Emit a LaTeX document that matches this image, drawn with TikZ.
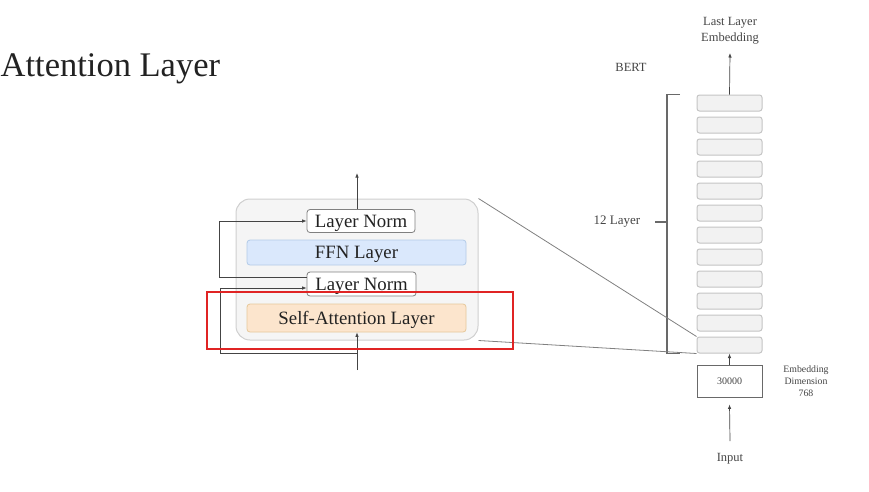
\documentclass[tikz,border=0pt]{standalone}
\usepackage{fontspec}
\setmainfont{Liberation Serif}
\usetikzlibrary{arrows.meta}
\definecolor{cellfill}{HTML}{F5F5F5}
\definecolor{cellline}{HTML}{CFCFCF}
\definecolor{ffnfill}{HTML}{DAE8FC}
\definecolor{ffnline}{HTML}{B3CBE8}
\definecolor{attnfill}{HTML}{FCE5CD}
\definecolor{attnline}{HTML}{E6C89A}
\definecolor{layerfill}{HTML}{F2F2F2}
\definecolor{layerline}{HTML}{C4C4C4}
\definecolor{focusred}{HTML}{E02424}
\definecolor{ink}{HTML}{222222}
\definecolor{grayink}{HTML}{444444}
\begin{document}
\begin{tikzpicture}
  [x=1pt,y=-1pt,every node/.style={inner sep=0pt,text=ink},
   block/.style={rounded corners=3pt,line width=0.8pt,text depth=0pt,font=\fontsize{18.8}{19}\selectfont},
   layer/.style={draw=layerline,fill=layerfill,rounded corners=2.5pt,line width=1pt,
     minimum width=65pt,minimum height=16pt},
   arr/.style={draw=grayink,line width=0.7pt,-{Latex[length=4.5pt,width=3.5pt]}},
   bracket/.style={draw=grayink!80,line width=1.4pt},
   side/.style={text=grayink,align=center,font=\fontsize{12.5}{16}\selectfont}]
  \useasboundingbox (0,0) rectangle (869,491);
  % title
  \node[anchor=base west,font=\fontsize{34.5}{34.5}\selectfont] (title) at (0.5,76) {Attention Layer};
  % encoder layer
  \node[draw=cellline,fill=cellfill,rounded corners=14pt,line width=1pt,
    minimum width=242pt,minimum height=141pt] (cell) at (357,269.5) {};
  \node[block,draw=gray,fill=white,minimum width=108pt,minimum height=23pt] (ln2) at (361,221) {Layer Norm};
  \node[block,draw=ffnline,fill=ffnfill,minimum width=219pt,minimum height=25pt] (ffn) at (356.5,252.5) {FFN Layer};
  \node[block,draw=gray,fill=white,minimum width=109pt,minimum height=24pt] (ln1) at (361.5,284) {Layer Norm};
  \node[block,draw=attnline,fill=attnfill,minimum width=219pt,minimum height=28pt] (attn) at (356.5,318) {Self-Attention Layer};
  \coordinate (out) at (357,173);
  \coordinate (in) at (357,370);
  \coordinate (split) at (357,353);
  \draw[arr] (ln2.north -| out) -- (out);
  \draw[arr] (in) -- (attn.south -| in);
  \draw[arr] (split) -- ++(-137,0) |- ([yshift=-4pt]ln1.west);
  \draw[arr] ([yshift=7pt]ln1.west) -- ++(-87,0) |- (ln2.west);
  % BERT stack
  \foreach \i in {1,...,12}
    \node[layer] (l\i) at (729.5,{103+22*(\i-1)}) {};
  \node[draw=grayink!80,fill=white,line width=0.8pt,minimum width=65pt,minimum height=32pt,
    font=\fontsize{10}{10}\selectfont,text=grayink] (vocab) at (729.5,381) {30000};
  \node[side] (bert) at (631,67) {BERT};
  \node[side] (last) at (730,31) {Last Layer\\Embedding};
  \node[side] (input) at (730,459) {Input};
  \node[side,font=\fontsize{9.8}{12}\selectfont] (dim) at (806,381) {Embedding\\Dimension\\768};
  \node[side,font=\fontsize{13}{13}\selectfont] (nlayer) at (617,222) {12 Layer};
  \coordinate (top) at (730,53);
  \coordinate (feed) at (730,441);
  \coordinate (brk) at (667,222);
  \draw[arr] (l1.north) -- (top);
  \draw[arr] (vocab.north) -- (l12.south);
  \draw[arr] (feed) -- ([yshift=-7pt]vocab.south);
  \draw[bracket] ([xshift=13pt]l1.north -| brk) -- (l1.north -| brk) -- (l12.south -| brk)
    -- ([xshift=13pt]l12.south -| brk);
  \draw[bracket] ([xshift=-12pt]brk) -- (brk);
  % zoom lines
  \draw[gray,line width=0.8pt] (cell.north east) -- (l12.north west)
    (cell.south east) -- (l12.south west);
  % highlight
  \node[draw=focusred,line width=2.5pt,minimum width=306pt,minimum height=57pt] (focus) at (360,320.5) {};
\end{tikzpicture}
\end{document}
